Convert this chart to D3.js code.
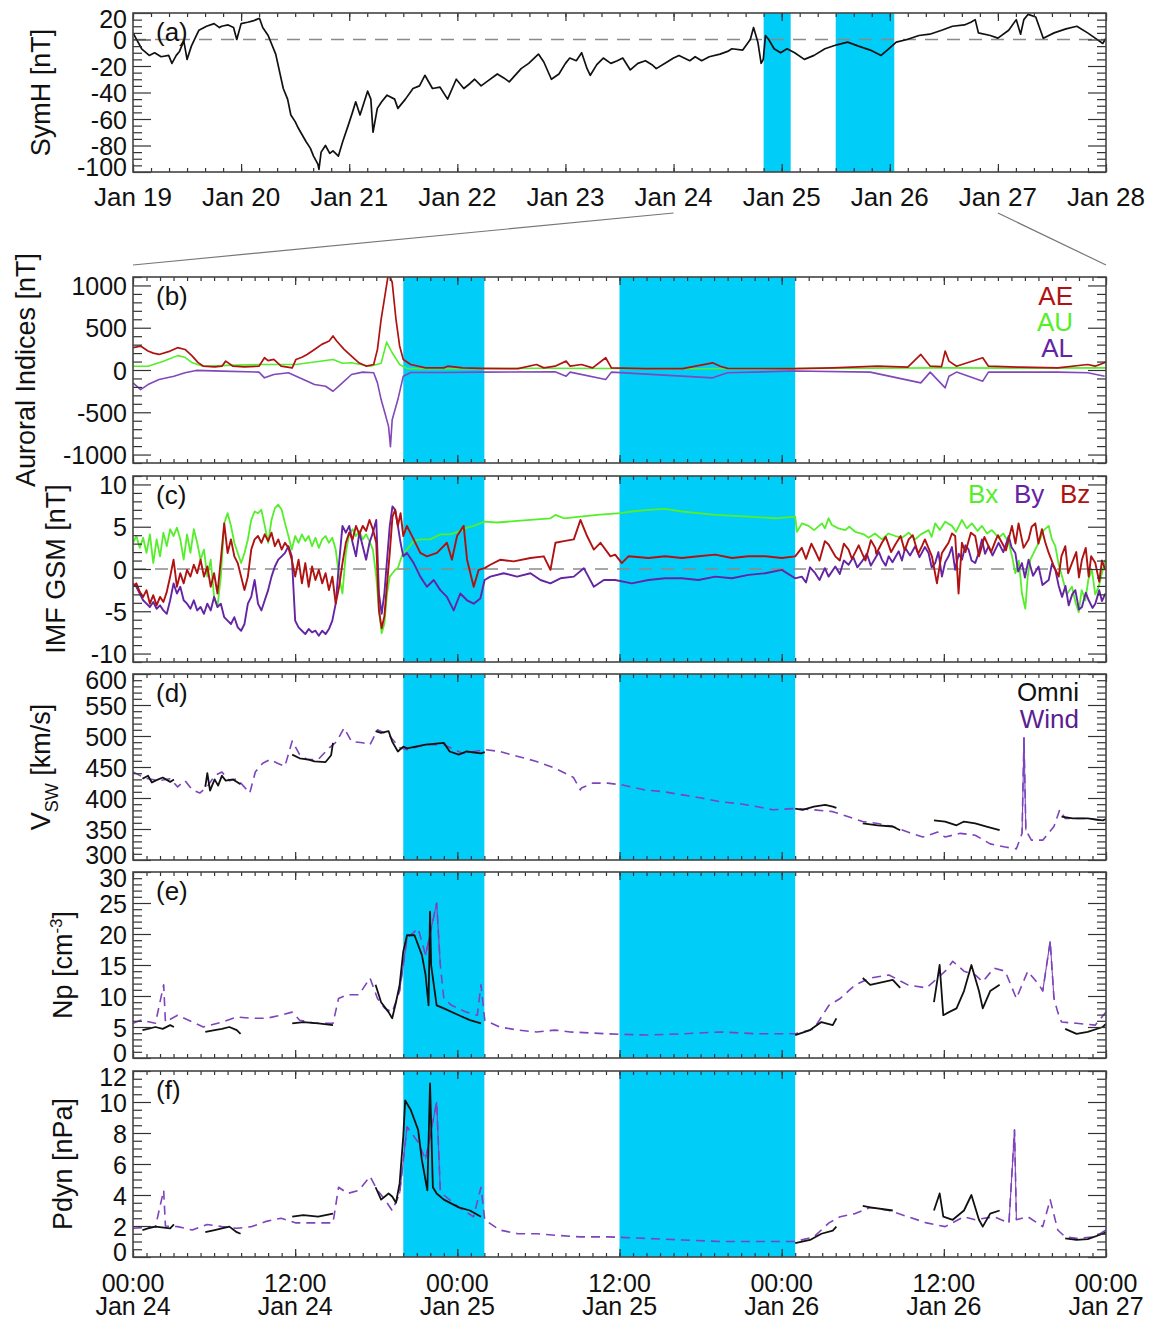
<!DOCTYPE html>
<html><head><meta charset="utf-8">
<script src="https://cdn.jsdelivr.net/npm/d3@7"></script>
<style>
body{margin:0;background:#fff}
svg{display:block}
text{font-family:"Liberation Sans",Arial,sans-serif;fill:#111}
</style>
</head><body>
<svg id="c" width="1158" height="1321"></svg>
<script>
// ---------------- DATA ----------------
// Panel (a): SymH, time in days since Jan 19 00:00
const symhData = [[0,5],[0.02,2],[0.08,-7],[0.15,-12],[0.2,-10],[0.26,-13],[0.33,-12],[0.36,-18],[0.4,-12],[0.43,-9],[0.47,-1],[0.5,-15],[0.54,-5],[0.58,2],[0.61,7],[0.68,10],[0.75,12],[0.8,9],[0.82,10],[0.88,11],[0.93,9],[0.96,0],[1.0,12],[1.06,13],[1.11,14],[1.14,15],[1.17,16],[1.2,9],[1.25,3],[1.32,-11],[1.39,-37],[1.43,-45],[1.46,-57],[1.5,-62],[1.53,-67],[1.6,-77],[1.64,-82],[1.67,-88],[1.71,-94],[1.72,-98],[1.74,-85],[1.78,-80],[1.82,-86],[1.85,-84],[1.9,-88],[1.94,-77],[1.99,-65],[2.03,-55],[2.06,-47],[2.1,-57],[2.17,-39],[2.2,-45],[2.22,-70],[2.26,-52],[2.3,-47],[2.35,-42],[2.42,-45],[2.45,-52],[2.52,-45],[2.59,-37],[2.65,-35],[2.7,-27],[2.77,-37],[2.84,-36],[2.91,-45],[2.99,-30],[3.06,-37],[3.12,-33],[3.16,-30],[3.22,-35],[3.27,-32],[3.37,-26],[3.43,-29],[3.48,-32],[3.59,-22],[3.66,-18],[3.75,-11],[3.8,-17],[3.87,-30],[3.94,-26],[4.0,-18],[4.04,-14],[4.1,-16],[4.15,-10],[4.2,-22],[4.23,-27],[4.29,-19],[4.35,-14],[4.42,-18],[4.48,-16],[4.53,-14],[4.6,-23],[4.67,-18],[4.74,-16],[4.8,-19],[4.84,-22],[4.94,-17],[5.0,-14],[5.05,-12],[5.15,-16],[5.2,-13],[5.26,-16],[5.33,-13],[5.43,-11],[5.5,-9],[5.54,-7],[5.64,-8],[5.71,0],[5.74,9],[5.78,-2],[5.81,-18],[5.83,-15],[5.85,3],[5.88,0],[5.93,-7],[5.99,-10],[6.05,-7],[6.12,-10],[6.21,-15],[6.3,-12],[6.4,-7],[6.51,-4],[6.61,-2],[6.71,-5],[6.82,-8],[6.92,-12],[6.99,-7],[7.06,-2],[7.16,0],[7.27,3],[7.37,4],[7.48,7],[7.58,10],[7.69,11],[7.75,13],[7.79,15],[7.82,5],[7.93,3],[8.0,1],[8.1,7],[8.17,15],[8.21,4],[8.24,15],[8.28,19],[8.35,17],[8.42,1],[8.52,5],[8.63,8],[8.73,10],[8.83,5],[8.9,1],[8.97,-3],[9.0,1]];

// Panels (b)-(f): time in hours since Jan 24 00:00
const aeData = [[0,264],[0.56,283],[1.11,224],[1.5,200],[1.93,184],[2.75,224],[3.3,264],[3.85,243],[4.39,164],[4.8,90],[5.21,45],[6.04,37],[6.58,45],[6.86,105],[7.4,45],[8.22,37],[9.32,45],[9.73,145],[10.0,110],[10.42,125],[10.96,45],[11.78,25],[12.06,125],[12.5,150],[12.88,184],[13.43,243],[13.97,303],[14.52,343],[14.8,402],[15.07,343],[15.62,244],[16.17,164],[16.72,85],[17.27,45],[17.81,65],[18.09,244],[18.36,600],[18.64,878],[18.91,1150],[19.18,1037],[19.46,600],[19.73,284],[20.0,125],[20.55,65],[21.65,25],[23.0,25],[23.29,45],[24.38,25],[25.75,20],[28.49,16],[29.86,65],[30.41,25],[31.23,45],[32.05,105],[32.35,45],[33.18,65],[34.01,25],[34.98,145],[35.4,25],[37.9,16],[40.68,16],[42.89,85],[43.45,45],[44.0,20],[49.0,16],[51.78,25],[55.1,45],[57.33,33],[58.3,184],[58.99,45],[59.83,40],[60.1,224],[60.38,105],[60.94,45],[62.88,145],[63.3,45],[65.65,33],[68.43,25],[70.65,65],[71.2,45],[72,93]];
const auData = [[0,45],[1.11,45],[2.2,100],[3.3,170],[3.85,150],[4.39,85],[5.21,45],[7,55],[9.32,65],[12.06,65],[14.8,125],[15.5,80],[16.17,85],[17.54,45],[18.36,80],[18.77,330],[19.18,204],[19.73,65],[20.28,16],[24,15],[30,20],[36,18],[42,15],[48,18],[54,20],[60,25],[66,22],[72,25]];
const alData = [[0,-152],[0.56,-232],[1.11,-172],[1.93,-113],[3.03,-73],[3.85,-33],[4.67,-5],[6.58,-13],[9.32,-25],[9.73,-93],[10.42,-53],[11.5,-33],[12.61,-113],[13.43,-172],[14.25,-192],[14.8,-251],[15.35,-172],[16.17,-53],[16.99,-25],[17.81,-33],[18.09,-152],[18.36,-350],[18.64,-508],[18.91,-667],[19.05,-906],[19.18,-588],[19.6,-350],[20.0,-73],[20.55,-30],[23.0,-30],[25.75,-25],[31.23,-20],[32.05,-73],[32.35,-25],[34.98,-113],[35.4,-25],[42.89,-93],[44.0,-33],[49.0,-12],[54.55,-25],[58.3,-152],[58.99,-25],[60.1,-211],[60.38,-73],[60.94,-25],[62.88,-132],[63.3,-25],[68.43,-25],[70.65,-33],[71.9,-73]];

const bxData = [[0,3.1],[0.25,3.9],[0.5,2.5],[0.75,3.7],[1.0,1.9],[1.25,4.1],[1.5,0.7],[1.75,3.5],[2.0,1.5],[2.25,4.3],[2.5,2.7],[2.75,4.7],[3.0,3.9],[3.25,4.9],[3.5,3.5],[3.75,1.1],[4.0,4.1],[4.25,1.9],[4.5,4.7],[4.75,3.1],[5.0,1.1],[5.25,2.3],[5.5,-0.9],[5.75,1.1],[6.0,-3.3],[6.25,-4.5],[6.5,-0.9],[6.75,5.4],[7.0,6.6],[7.25,5.1],[7.5,3.1],[7.75,1.9],[8.0,0.7],[8.25,1.9],[8.5,3.5],[8.75,5.8],[9.0,6.8],[9.25,6.6],[9.5,7.0],[9.75,5.1],[10.0,3.1],[10.25,5.8],[10.5,7.2],[10.75,7.6],[11.0,7.0],[11.25,5.4],[11.5,3.9],[11.75,2.3],[12.0,3.9],[12.25,3.1],[12.5,4.1],[12.75,3.3],[13.0,3.9],[13.25,2.7],[13.5,3.7],[13.75,2.5],[14.0,3.5],[14.25,3.9],[14.5,3.1],[14.75,3.7],[15.0,2.3],[15.25,-0.9],[15.5,-2.9],[15.75,1.9],[16.0,4.1],[16.25,4.7],[16.5,3.9],[16.75,4.5],[17.0,3.5],[17.25,4.1],[17.5,3.3],[17.75,2.3],[18.0,-0.9],[18.2,-4.9],[18.4,-7.6],[18.6,-6.5],[18.8,-2.9],[19.0,-0.9],[19.2,-0.5],[19.4,-0.1],[19.6,0.1],[19.8,1.1],[20.0,1.9],[20.27,2.3],[20.77,3.3],[21.26,3.5],[22.0,3.5],[22.74,4.1],[23.48,4.1],[24.22,4.5],[24.72,4.9],[25.21,5.1],[26.02,5.6],[26.94,5.5],[29.41,5.8],[30.89,6.0],[31.26,6.4],[31.88,6.0],[33.11,6.2],[34.35,6.4],[36.07,6.6],[36.91,6.8],[38.14,7.0],[39.38,7.1],[40.61,6.8],[43.08,6.4],[45.55,6.2],[47.53,6.0],[49.0,6.2],[49.13,4.4],[49.5,5.4],[49.99,5.1],[50.4,4.6],[50.98,5.4],[51.2,4.8],[51.47,6.0],[51.72,5.2],[52.2,4.8],[52.71,4.6],[53.0,5.0],[53.45,4.4],[54.07,4.1],[54.44,3.7],[54.9,4.2],[55.42,3.5],[55.9,4.2],[56.41,3.9],[56.91,3.7],[57.4,4.3],[57.88,3.5],[58.3,4.1],[58.87,4.6],[59.1,3.8],[59.36,5.4],[59.7,4.6],[60.1,5.6],[60.6,5.1],[60.9,4.4],[61.34,5.8],[61.7,4.8],[62.08,5.4],[62.5,4.5],[62.82,5.1],[63.2,4.2],[63.56,4.6],[64.05,3.7],[64.4,4.2],[64.8,3.1],[65.05,1.5],[65.29,-0.5],[65.55,1.0],[65.78,-2.9],[66.03,-4.7],[66.2,-1.0],[66.4,1.1],[67.01,3.1],[67.4,4.6],[67.76,5.1],[68.0,3.5],[68.25,2.7],[68.5,0.5],[68.75,-0.9],[69.1,-3.0],[69.48,-2.1],[69.75,-4.0],[69.98,-5.1],[70.2,-2.5],[70.47,-3.7],[70.7,-1.2],[70.96,-0.1],[71.2,-3.0],[71.46,-2.1],[71.7,-0.5],[71.95,1.1]];
const byData = [[0,-1.7],[0.25,-2.1],[0.5,-2.9],[0.75,-3.7],[1.0,-4.1],[1.25,-4.5],[1.5,-3.9],[1.75,-4.7],[2.0,-4.3],[2.25,-4.9],[2.5,-5.3],[2.75,-3.7],[3.0,-1.7],[3.25,-2.9],[3.5,-2.1],[3.75,-3.7],[4.0,-4.1],[4.25,-4.7],[4.5,-3.7],[4.75,-4.9],[5.0,-4.5],[5.25,-5.3],[5.5,-4.1],[5.75,-4.9],[6.0,-3.3],[6.25,-4.5],[6.5,-4.1],[6.75,-5.7],[7.0,-6.1],[7.25,-6.5],[7.5,-5.7],[7.75,-6.9],[8.0,-7.3],[8.25,-6.5],[8.5,-4.1],[8.75,-3.3],[9.0,-1.3],[9.25,-4.1],[9.5,-4.9],[9.75,-3.7],[10.0,-2.5],[10.25,-0.9],[10.5,0.3],[10.75,1.1],[11.0,1.5],[11.25,1.9],[11.5,2.7],[11.75,1.5],[12.0,-6.1],[12.25,-6.9],[12.5,-7.3],[12.75,-7.7],[13.0,-7.1],[13.25,-7.5],[13.5,-7.3],[13.75,-7.9],[14.0,-7.3],[14.25,-7.7],[14.5,-7.1],[14.75,-6.1],[15.0,-4.1],[15.25,0.7],[15.5,5.1],[15.75,4.3],[16.0,5.1],[16.25,3.1],[16.5,1.5],[16.75,4.3],[17.0,2.7],[17.25,1.1],[17.5,3.1],[17.75,4.3],[18.0,5.8],[18.2,-2.9],[18.4,-5.3],[18.6,-2.9],[18.8,1.1],[19.0,5.1],[19.2,7.4],[19.4,7.0],[19.6,5.1],[19.8,3.1],[20.0,1.5],[20.27,1.9],[20.77,0.7],[21.26,-0.9],[21.75,-2.1],[22.25,-1.3],[22.74,-2.5],[23.23,-3.3],[23.73,-4.9],[24.22,-2.9],[24.72,-3.7],[25.21,-4.1],[25.7,-3.5],[26.02,-1.3],[26.44,-0.9],[27.43,-0.5],[28.42,-0.9],[29.41,-0.5],[30.15,-1.3],[30.89,-1.7],[31.63,-1.1],[32.62,-0.9],[33.36,0.1],[34.1,-2.1],[34.84,-1.3],[35.68,-1.3],[36.91,-1.7],[38.14,-1.3],[39.38,-1.1],[40.61,-1.1],[41.85,-1.3],[43.08,-0.9],[44.32,-1.1],[45.55,-0.7],[46.79,-0.5],[48.01,-0.1],[49.0,-1.1],[49.49,-0.9],[49.8,-1.6],[50.1,0.2],[50.48,-0.5],[50.8,-1.3],[51.2,0.1],[51.47,-0.9],[51.97,0.3],[52.3,-0.6],[52.6,1.0],[52.95,0.5],[53.3,1.4],[53.6,0.2],[53.94,0.9],[54.3,1.8],[54.6,0.4],[54.93,1.3],[55.2,2.0],[55.42,1.1],[55.7,0.4],[55.92,1.5],[56.2,0.8],[56.66,2.1],[56.9,1.0],[57.14,2.5],[57.5,1.6],[57.88,2.7],[58.2,1.4],[58.6,2.6],[58.87,1.9],[59.1,0.2],[59.36,0.7],[59.6,2.0],[59.86,-0.9],[60.1,0.8],[60.35,1.5],[60.6,2.6],[60.84,-0.1],[61.1,1.8],[61.34,1.1],[61.6,2.8],[61.83,2.3],[62.05,1.0],[62.32,0.7],[62.6,2.0],[62.82,3.5],[63.05,1.8],[63.31,2.7],[63.6,1.6],[64.05,3.1],[64.4,2.0],[64.8,3.9],[65.0,2.6],[65.29,1.9],[65.5,-0.3],[65.78,0.7],[66.0,-1.0],[66.27,1.1],[66.6,-0.8],[67.01,0.3],[67.3,-1.9],[67.76,-1.3],[68.0,0.6],[68.25,-0.1],[68.5,-2.0],[68.75,-3.3],[69.0,-2.0],[69.24,-4.3],[69.5,-3.0],[69.73,-2.5],[70.0,-4.8],[70.22,-4.5],[70.5,-2.8],[70.72,-3.7],[71.0,-4.6],[71.21,-4.1],[71.5,-2.5],[71.7,-3.8],[71.95,-2.9]];
const bzData = [[0,-2.1],[0.25,-1.7],[0.5,-2.7],[0.75,-3.3],[1.0,-2.5],[1.25,-4.1],[1.5,-3.1],[1.75,-4.3],[2.0,-3.3],[2.25,-3.9],[2.5,-2.7],[2.75,-0.9],[3.0,1.1],[3.25,-2.1],[3.5,-0.5],[3.75,-1.7],[4.0,-0.1],[4.25,-0.9],[4.5,0.5],[4.75,-0.5],[5.0,1.1],[5.25,-0.9],[5.5,0.3],[5.75,-2.1],[6.0,-0.5],[6.25,-2.9],[6.5,1.1],[6.75,5.4],[7.0,1.9],[7.25,3.5],[7.5,1.5],[7.75,0.7],[8.0,-0.9],[8.25,-2.5],[8.5,-0.9],[8.75,2.3],[9.0,3.5],[9.25,3.9],[9.5,3.1],[9.75,4.1],[10.0,3.3],[10.25,4.3],[10.5,2.7],[10.75,3.5],[11.0,2.3],[11.25,3.1],[11.5,2.5],[11.75,1.1],[12.0,-0.9],[12.25,1.1],[12.5,-1.7],[12.75,0.7],[13.0,-2.1],[13.25,0.3],[13.5,-1.3],[13.75,-0.1],[14.0,-1.7],[14.25,-0.5],[14.5,-2.5],[14.75,-0.9],[15.0,-4.1],[15.25,-2.1],[15.5,0.7],[15.75,3.1],[16.0,4.3],[16.25,3.5],[16.5,5.1],[16.75,4.1],[17.0,5.1],[17.25,4.5],[17.5,5.8],[17.75,4.7],[18.0,3.1],[18.2,-4.9],[18.4,-7.0],[18.6,-5.6],[18.8,-1.7],[19.0,1.9],[19.2,6.2],[19.4,7.0],[19.6,5.1],[19.8,6.6],[20.0,3.9],[20.27,5.1],[20.77,3.5],[21.26,1.9],[21.75,1.5],[22.49,1.9],[23.23,3.1],[23.6,1.1],[23.98,3.9],[24.47,5.1],[24.72,1.1],[25.21,-2.1],[25.58,-0.1],[26.02,0.1],[26.44,0.5],[27.19,1.1],[28.17,0.9],[29.41,1.3],[30.4,1.5],[30.89,-0.1],[31.26,3.1],[31.88,3.3],[32.62,3.5],[33.11,5.8],[33.6,3.9],[34.1,2.3],[34.59,3.1],[35.33,1.5],[35.68,1.7],[36.17,0.7],[36.66,1.5],[38.14,1.3],[39.38,1.5],[40.61,1.3],[41.85,1.5],[43.08,1.7],[44.32,1.3],[45.55,1.5],[46.79,1.5],[48.01,1.3],[49.0,1.5],[49.49,2.5],[49.8,1.2],[50.2,3.0],[50.48,2.1],[50.8,1.0],[51.2,3.3],[51.47,2.9],[51.97,1.5],[52.3,1.0],[52.6,3.0],[52.95,2.3],[53.2,1.2],[53.7,2.8],[53.94,1.9],[54.2,1.0],[54.6,3.4],[54.93,2.5],[55.0,1.8],[55.42,3.1],[55.7,3.8],[56.1,2.0],[56.41,2.9],[56.8,3.9],[57.1,2.2],[57.4,3.5],[57.7,4.0],[58.1,1.8],[58.38,2.7],[58.6,3.5],[59.12,1.5],[59.49,-1.7],[59.7,0.5],[59.86,1.9],[60.1,2.5],[60.35,3.1],[60.6,4.2],[60.84,3.9],[61.09,-2.9],[61.34,3.1],[61.6,2.0],[62.0,4.3],[62.32,3.9],[62.6,1.5],[62.82,2.7],[63.0,3.8],[63.5,2.0],[63.81,3.3],[64.0,4.0],[64.3,3.1],[64.6,2.2],[65.04,5.1],[65.3,3.0],[65.53,5.4],[65.9,2.5],[66.27,3.5],[66.5,5.0],[66.77,5.4],[67.0,3.0],[67.26,4.7],[67.5,3.2],[67.76,1.9],[68.1,0.5],[68.5,-0.9],[68.7,1.5],[68.99,2.7],[69.2,-0.5],[69.48,0.7],[69.8,2.0],[70.0,-1.0],[70.22,1.1],[70.5,2.5],[70.72,-0.9],[70.9,1.5],[71.21,0.7],[71.5,-1.5],[71.7,1.0],[71.95,-0.1]];

const vOmni = [[0.7,431],[1.11,436],[1.4,425],[1.66,428],[2.2,433],[2.75,426],[3.03,430],[3.1,null],[5.35,418],[5.5,440],[5.7,412],[6.04,430],[6.3,420],[6.58,436],[6.86,428],[7.4,430],[7.96,422],[8.0,null],[11.78,470],[12.33,464],[13.0,462],[13.43,459],[14.25,458],[14.66,469],[14.8,489],[14.9,null],[17.95,508],[18.36,505],[18.91,508],[19.18,491],[19.6,475],[20.0,483],[20.28,480],[21.65,486],[23.0,489],[23.43,475],[24.11,470],[24.66,475],[25.75,472],[26.03,474],[26.1,null],[49.0,383],[49.55,381],[50.38,386],[51.22,389],[51.78,386],[52.05,384],[52.1,null],[54.0,359],[55.1,356],[56.22,354],[56.77,348],[56.8,null],[59.27,364],[60.1,362],[60.94,356],[61.49,362],[62.32,359],[63.16,354],[64.13,348],[64.2,null],[68.71,370],[69.54,367],[70.65,367],[71.76,364],[72,366]];
const vWind = [[0,442],[0.56,436],[1.11,431],[1.93,428],[2.75,431],[3.3,418],[3.85,428],[4.39,413],[4.94,408],[5.49,418],[6.04,436],[6.58,442],[7.13,428],[7.68,431],[8.23,418],[8.64,408],[9.05,442],[9.6,456],[10.14,462],[10.69,456],[11.24,451],[11.78,492],[12.33,470],[12.88,462],[13.7,462],[14.52,481],[15.07,491],[15.62,513],[16.17,491],[16.99,489],[17.54,486],[18.09,510],[18.91,502],[19.73,481],[20.28,478],[21.65,486],[23.0,486],[24.39,472],[26.03,478],[27.13,475],[28.49,467],[29.86,459],[31.23,448],[32.35,436],[32.6,433],[33.1,413],[33.18,416],[34.01,424],[35.12,424],[36.23,421],[37.9,413],[39.28,410],[40.67,405],[42.06,400],[43.45,394],[44.84,391],[46.22,386],[47.33,381],[49.0,383],[50.38,381],[51.78,378],[52.89,370],[54.0,362],[55.1,359],[56.22,354],[57.33,345],[58.44,337],[59.55,345],[60.1,337],[61.21,343],[62.32,340],[63.43,326],[64.54,321],[65.37,318],[65.79,343],[65.93,497],[66.07,348],[66.48,332],[67.32,332],[68.15,354],[68.57,381],[68.98,367],[69.82,367],[70.65,367],[71.48,364],[72,359]];

const npOmni = [[0.7,4.5],[1.11,4.7],[1.66,5.0],[2.2,4.7],[2.75,5.3],[3.03,5.0],[3.1,null],[5.35,4.2],[6.04,4.5],[6.58,4.7],[7.13,5.0],[7.68,4.5],[7.96,3.9],[8.0,null],[11.78,5.6],[12.61,5.8],[13.7,5.6],[14.8,5.3],[14.9,null],[17.95,11.8],[18.36,9.0],[18.91,7.4],[19.18,6.4],[19.46,9.0],[19.73,11.8],[20.0,17.2],[20.28,19.8],[20.83,19.8],[21.38,16.6],[21.65,13.4],[21.87,8.5],[21.98,23.6],[22.06,15],[22.47,8.5],[23.0,8.0],[24.11,6.9],[24.93,6.1],[25.75,5.6],[25.8,null],[49.0,3.7],[50.1,4.5],[50.94,5.8],[51.78,5.3],[52.05,6.4],[52.1,null],[54.0,12.9],[54.55,11.8],[56.22,12.6],[56.77,11.3],[56.8,null],[59.27,9.0],[59.69,15.0],[59.96,6.9],[60.38,7.4],[60.94,8.0],[61.49,10.8],[62.04,15.0],[62.6,10.8],[62.88,8.0],[63.43,10.8],[64.13,11.8],[64.2,null],[68.98,4.7],[69.82,3.9],[70.65,4.2],[71.76,5.0],[72,5.5]];
const npWind = [[0,5.6],[0.56,6.1],[1.66,5.6],[2.27,11.8],[2.4,5.8],[3.3,6.9],[4.39,5.8],[5.21,5.0],[6.58,5.8],[7.68,6.6],[8.78,6.4],[9.87,6.4],[10.96,6.9],[11.78,7.4],[12.33,6.1],[13.43,5.6],[14.8,5.6],[15.21,9.6],[15.89,10.2],[16.72,10.2],[17.54,12.9],[18.09,9.6],[18.64,8.0],[19.18,7.4],[19.73,10.8],[20.28,19.3],[21.1,20.9],[21.65,16.6],[22.47,25.0],[22.74,15.0],[23.0,9.6],[23.57,8.5],[24.66,7.4],[25.48,6.9],[25.75,11.8],[26.03,6.1],[27.13,5.0],[28.49,4.5],[29.86,4.2],[31.23,4.5],[32.35,4.2],[35.12,3.9],[37.9,3.7],[40.67,3.9],[43.45,4.2],[46.22,3.9],[49.0,3.9],[50.38,4.7],[51.5,8.5],[52.33,9.6],[53.44,11.8],[54.55,12.9],[55.94,13.4],[57.33,11.8],[58.72,11.3],[59.55,12.9],[60.1,14.0],[60.66,15.6],[61.49,14.0],[62.32,13.4],[62.88,12.3],[63.71,14.5],[64.54,14.0],[65.37,9.6],[66.21,14.0],[67.04,11.8],[67.32,10.8],[67.87,18.8],[68.15,9.6],[68.43,7.4],[68.71,5.8],[69.82,5.6],[71.2,5.3],[72,7.4]];

const pOmni = [[0.7,1.74],[1.11,1.85],[1.66,1.96],[2.75,1.85],[3.03,2.1],[3.1,null],[5.35,1.6],[6.04,1.74],[6.58,1.85],[7.13,1.96],[7.68,1.6],[7.96,1.5],[8.0,null],[11.78,2.6],[12.61,2.7],[13.7,2.6],[14.8,2.8],[14.9,null],[17.95,4.5],[18.36,3.7],[18.91,4.1],[19.18,3.9],[19.46,3.5],[19.73,4.75],[20.0,7.8],[20.14,10.1],[20.55,9.5],[21.1,8.2],[21.37,6.3],[21.78,4.3],[21.98,11.2],[22.19,4.5],[22.47,4.1],[23.0,3.7],[24.11,3.2],[24.93,3.0],[25.75,2.6],[25.8,null],[49.0,0.9],[50.1,1.1],[50.94,1.5],[51.78,1.7],[52.05,1.96],[52.1,null],[54.0,3.3],[54.55,3.2],[56.22,3.0],[56.3,null],[59.27,3.0],[59.69,4.1],[59.96,2.6],[60.66,2.4],[61.49,3.0],[62.04,4.0],[62.6,2.4],[62.88,1.96],[63.43,2.8],[64.13,3.0],[64.2,null],[68.98,1.2],[69.82,1.1],[70.65,1.15],[71.76,1.5],[72,1.6]];
const pWind = [[0,1.85],[1.66,1.96],[2.27,4.3],[2.4,2.0],[3.3,1.96],[4.39,1.74],[5.49,2.1],[6.58,1.96],[7.68,1.85],[8.78,1.96],[9.87,2.3],[10.96,2.5],[12.06,2.2],[13.43,2.2],[14.8,2.2],[15.21,4.5],[15.89,4.1],[16.72,4.3],[17.54,5.2],[18.09,4.3],[18.64,3.7],[19.18,3.0],[19.73,4.1],[20.28,8.4],[21.1,7.4],[21.65,6.3],[22.47,10.0],[22.74,4.3],[23.0,4.0],[24.11,3.2],[25.2,2.6],[25.75,4.5],[26.03,2.4],[27.13,1.74],[28.49,1.5],[29.86,1.5],[31.23,1.4],[33.1,1.3],[35.12,1.3],[37.9,1.2],[40.67,1.1],[43.45,1.0],[46.22,1.0],[49.0,1.0],[50.38,1.3],[51.5,2.2],[52.33,2.6],[53.44,2.8],[54.55,3.2],[55.94,3.0],[57.33,2.6],[58.72,2.2],[60.1,1.96],[61.49,2.6],[62.32,2.4],[63.71,2.6],[64.82,2.2],[65.23,8.2],[65.37,2.4],[66.21,2.6],[67.32,1.96],[67.87,3.7],[68.43,1.74],[68.98,1.3],[69.82,1.2],[71.2,1.3],[72,1.74]];

// Shaded intervals
const shadeDays = [[5 + 20/24, 6 + 2/24], [6.5, 7 + 1/24]];
const shadeHours = [[20, 26], [36, 49]];

// Tick labels
const topTickLabels = ["Jan 19","Jan 20","Jan 21","Jan 22","Jan 23","Jan 24","Jan 25","Jan 26","Jan 27","Jan 28"];
const bottomTickLabels = [["00:00","Jan 24"],["12:00","Jan 24"],["00:00","Jan 25"],["12:00","Jan 25"],["00:00","Jan 26"],["12:00","Jan 26"],["00:00","Jan 27"]];

// ---------------- DRAW ----------------
const svg = d3.select("#c");
const X0 = 133, X1 = 1106;
const CYAN = "#00cdf8";
const RED = "#b01212", GREEN = "#55ee2a", PURPLE = "#6424a4", WIND = "#7d44bb";
const FS = 26, YFS = 25;

const xA = d3.scaleLinear().domain([0, 9]).range([X0, X1]);
const xB = d3.scaleLinear().domain([0, 72]).range([X0, X1]);

let clipId = 0;
function panel(opt) {
  const {top, bottom, x, yDomain, yMajor, yStep, xMajor, xMinor, shade} = opt;
  const y = d3.scaleLinear().domain(yDomain).range([bottom, top]);
  const g = svg.append("g");
  const id = "clip" + (clipId++);
  svg.append("clipPath").attr("id", id).append("rect")
    .attr("x", X0).attr("y", top).attr("width", X1 - X0).attr("height", bottom - top);
  const plot = g.append("g").attr("clip-path", `url(#${id})`);
  shade.forEach(s => {
    plot.append("rect").attr("x", x(s[0])).attr("y", top)
      .attr("width", x(s[1]) - x(s[0])).attr("height", bottom - top).attr("fill", CYAN);
  });
  if (opt.zeroLine) {
    plot.append("line").attr("x1", X0).attr("x2", X1).attr("y1", y(0)).attr("y2", y(0))
      .attr("stroke", "#8a8a8a").attr("stroke-width", 1.5).attr("stroke-dasharray", "13,9");
  }
  const line = d3.line().defined(d => d[1] !== null).x(d => x(d[0])).y(d => y(d[1]));
  opt.series.forEach(s => {
    plot.append("path").datum(s.data).attr("d", line).attr("fill", "none")
      .attr("stroke", s.color).attr("stroke-width", s.width || 1.5)
      .attr("stroke-linejoin", "round")
      .attr("stroke-dasharray", s.dash || null);
    if (s.dash) {
      // steep jumps (spikes) of the dashed series are drawn as thin solid strokes, as in the source
      const pairs = d3.pairs(s.data).filter(p => p[0][1] !== null && p[1][1] !== null && Math.abs(y(p[1][1]) - y(p[0][1])) > 40);
      plot.selectAll(null).data(pairs).enter().append("line")
        .attr("x1", p => x(p[0][0])).attr("y1", p => y(p[0][1]))
        .attr("x2", p => x(p[1][0])).attr("y2", p => y(p[1][1]))
        .attr("stroke", s.color).attr("stroke-width", 1.1);
    }
  });
  const yMinor = d3.range(yDomain[0], yDomain[1] + 1e-9, yStep).filter(v => !yMajor.some(m => Math.abs(m - v) < 1e-9));
  const ax = (gen, tx, ty) => { const a = g.append("g").attr("transform", `translate(${tx},${ty})`).call(gen); a.select(".domain").remove(); a.selectAll("line").attr("stroke", "#333").attr("stroke-width", 1.2); return a; };
  ax(d3.axisLeft(y).tickValues(yMinor).tickSize(-9).tickFormat(""), X0, 0);
  ax(d3.axisRight(y).tickValues(yMinor).tickSize(-9).tickFormat(""), X1, 0);
  ax(d3.axisRight(y).tickValues(yMajor).tickSize(-18).tickFormat(""), X1, 0);
  const ly = ax(d3.axisLeft(y).tickValues(yMajor).tickSize(-18).tickPadding(6).tickFormat(d => String(d)), X0, 0);
  ly.selectAll("text").attr("font-size", YFS).attr("font-family", '"Liberation Sans", Arial, sans-serif').attr("fill", "#111")
    .attr("dy", "0.36em")
    .attr("transform", d => d === yDomain[1] ? "translate(0,5)" : (d === yDomain[0] ? "translate(0,-6)" : null));
  ax(d3.axisBottom(x).tickValues(xMinor).tickSize(-4).tickFormat(""), 0, bottom);
  ax(d3.axisBottom(x).tickValues(xMajor).tickSize(-8).tickFormat(""), 0, bottom);
  ax(d3.axisTop(x).tickValues(xMinor).tickSize(-4).tickFormat(""), 0, top);
  ax(d3.axisTop(x).tickValues(xMajor).tickSize(-8).tickFormat(""), 0, top);
  g.append("rect").attr("x", X0).attr("y", top).attr("width", X1 - X0).attr("height", bottom - top)
    .attr("fill", "none").attr("stroke", "#444").attr("stroke-width", 1.6);
  g.append("text").attr("x", 156).attr("y", top + 28).attr("font-size", FS).text(opt.letter);
  const t = g.append("text").attr("transform", `translate(${opt.titleX},${(top + bottom) / 2}) rotate(-90)`)
    .attr("text-anchor", "middle").attr("dy", "0.36em").attr("font-size", 27);
  opt.title(t);
  return {g, y};
}

const dayMajor = d3.range(0, 9.001, 1);
const dayMinor = d3.range(0, 9.001, 1/6);
const hrMajor = d3.range(0, 72.001, 12);
const hrMinor = d3.range(0, 72.001, 1);

// (a)
panel({top: 13, bottom: 172, x: xA, yDomain: [-100, 20], yMajor: d3.range(-100, 21, 20), yStep: 5,
  xMajor: dayMajor, xMinor: dayMinor, shade: shadeDays, zeroLine: true, letter: "(a)", titleX: 40,
  title: t => t.text("SymH [nT]"),
  series: [{data: symhData, color: "#111", width: 1.7}]});
topTickLabels.forEach((lab, i) => {
  svg.append("text").attr("x", xA(i)).attr("y", 206).attr("text-anchor", "middle").attr("font-size", FS).text(lab);
});
svg.append("line").attr("x1", X0).attr("y1", 265).attr("x2", xA(5)).attr("y2", 213).attr("stroke", "#777").attr("stroke-width", 1.2);
svg.append("line").attr("x1", xA(8)).attr("y1", 213).attr("x2", X1).attr("y2", 265).attr("stroke", "#777").attr("stroke-width", 1.2);

// (b)
panel({top: 277, bottom: 463, x: xB, yDomain: [-1100, 1100], yMajor: [-1000, -500, 0, 500, 1000], yStep: 100,
  xMajor: hrMajor, xMinor: hrMinor, shade: shadeHours, letter: "(b)", titleX: 25,
  title: t => t.text("Auroral Indices [nT]"),
  series: [{data: alData, color: "#8048b8", width: 1.6}, {data: auData, color: GREEN, width: 1.6}, {data: aeData, color: RED, width: 1.7}]});
[["AE", RED, 296], ["AU", GREEN, 322], ["AL", PURPLE, 348]].forEach(l => {
  svg.append("text").attr("x", 1073).attr("y", l[2]).attr("dy", "0.36em").attr("text-anchor", "end")
    .attr("font-size", 26).style("fill", l[1]).text(l[0]);
});

// (c)
panel({top: 476, bottom: 662, x: xB, yDomain: [-11, 11], yMajor: [-10, -5, 0, 5, 10], yStep: 1,
  xMajor: hrMajor, xMinor: hrMinor, shade: shadeHours, zeroLine: true, letter: "(c)", titleX: 55,
  title: t => t.text("IMF GSM [nT]"),
  series: [{data: bxData, color: GREEN, width: 1.8}, {data: byData, color: PURPLE, width: 1.9}, {data: bzData, color: RED, width: 1.9}]});
[["Bx", GREEN, 968], ["By", PURPLE, 1014], ["Bz", RED, 1060]].forEach(l => {
  svg.append("text").attr("x", l[2]).attr("y", 494).attr("dy", "0.36em")
    .attr("font-size", 26).style("fill", l[1]).text(l[0]);
});

// (d)
panel({top: 674, bottom: 860, x: xB, yDomain: [300, 600], yMajor: d3.range(300, 601, 50), yStep: 10,
  xMajor: hrMajor, xMinor: hrMinor, shade: shadeHours, letter: "(d)", titleX: 40,
  title: t => { t.append("tspan").text("V"); t.append("tspan").attr("font-size", 18).attr("dy", 8).text("SW"); t.append("tspan").attr("dy", -8).text(" [km/s]"); },
  series: [{data: vWind, color: WIND, width: 1.6, dash: "9,6"}, {data: vOmni, color: "#111", width: 1.8}]});
[["Omni", "#111", 692], ["Wind", "#5a1e90", 719]].forEach(l => {
  svg.append("text").attr("x", 1079).attr("y", l[2]).attr("dy", "0.36em").attr("text-anchor", "end")
    .attr("font-size", 26).style("fill", l[1]).text(l[0]);
});

// (e)
panel({top: 872, bottom: 1058, x: xB, yDomain: [0, 30], yMajor: d3.range(0, 31, 5), yStep: 1,
  xMajor: hrMajor, xMinor: hrMinor, shade: shadeHours, letter: "(e)", titleX: 62,
  title: t => { t.append("tspan").text("Np [cm"); t.append("tspan").attr("font-size", 17).attr("dy", -10).text("-3"); t.append("tspan").attr("dy", 10).text("]"); },
  series: [{data: npWind, color: WIND, width: 1.6, dash: "9,6"}, {data: npOmni, color: "#111", width: 1.8}]});

// (f)
panel({top: 1071, bottom: 1257, x: xB, yDomain: [0, 12], yMajor: d3.range(0, 12.1, 2), yStep: 0.5,
  xMajor: hrMajor, xMinor: hrMinor, shade: shadeHours, letter: "(f)", titleX: 62,
  title: t => t.text("Pdyn [nPa]"),
  series: [{data: pWind, color: WIND, width: 1.6, dash: "9,6"}, {data: pOmni, color: "#111", width: 1.8}]});
bottomTickLabels.forEach((lab, i) => {
  const t = svg.append("text").attr("text-anchor", "middle").attr("font-size", 25);
  t.append("tspan").attr("x", xB(i * 12)).attr("y", 1292).text(lab[0]);
  t.append("tspan").attr("x", xB(i * 12)).attr("y", 1315).text(lab[1]);
});
</script>
</body></html>
